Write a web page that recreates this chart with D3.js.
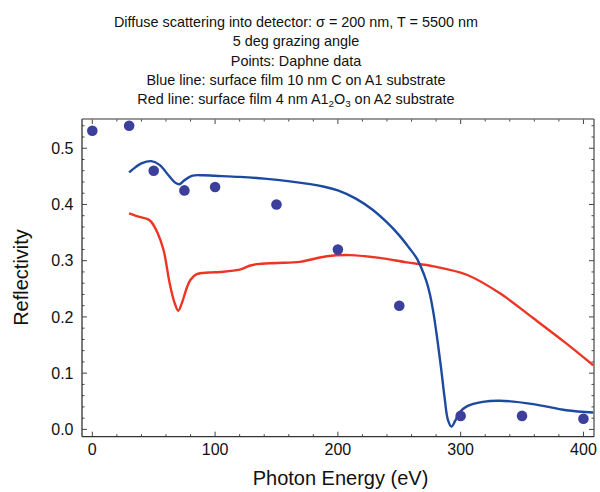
<!DOCTYPE html>
<html>
<head>
<meta charset="utf-8">
<script src="https://cdn.jsdelivr.net/npm/d3@7"></script>
<style>
  body { margin: 0; background: #fff; }
  text { font-family: "Liberation Sans", Arial, Helvetica, sans-serif; }
</style>
</head>
<body>
<div id="chart"></div>
<script>
// values
const blueEnergy = [30, 35, 40, 48, 55, 62, 68, 71, 75, 81, 90, 100, 120, 140, 161, 188, 200, 215, 228, 240, 250, 258, 264, 268, 272, 275, 278, 281, 284, 287, 289.5, 292.5, 295.5, 299, 305, 318, 332, 359, 386, 408];
const blueRefl   = [0.457, 0.466, 0.473, 0.477, 0.470, 0.452, 0.438, 0.436, 0.443, 0.451, 0.452, 0.451, 0.449, 0.446, 0.441, 0.432, 0.425, 0.410, 0.391, 0.368, 0.345, 0.323, 0.305, 0.287, 0.264, 0.240, 0.205, 0.160, 0.110, 0.055, 0.018, 0.005, 0.015, 0.030, 0.041, 0.049, 0.051, 0.045, 0.034, 0.030];

const redEnergy = [30, 35, 40, 45, 48, 53, 58, 63, 67, 70, 73, 77, 80, 85, 95, 104, 120, 128, 134, 150, 169, 191, 210, 234, 256, 278, 305, 332, 359, 386, 408];
const redRefl   = [0.384, 0.380, 0.377, 0.374, 0.369, 0.350, 0.319, 0.260, 0.225, 0.211, 0.225, 0.252, 0.266, 0.276, 0.279, 0.280, 0.284, 0.291, 0.294, 0.296, 0.298, 0.308, 0.310, 0.305, 0.297, 0.290, 0.275, 0.242, 0.198, 0.153, 0.114];

const daphneEnergy = [0, 30, 50, 75, 100, 150, 200, 250, 300, 350, 400];
const daphneRefl   = [0.531, 0.540, 0.460, 0.425, 0.431, 0.400, 0.320, 0.220, 0.024, 0.024, 0.019];

const xTicks = [0, 100, 200, 300, 400];
const yTicks = [0.0, 0.1, 0.2, 0.3, 0.4, 0.5];

const titleLines = [
  "Diffuse scattering into detector: \u03c3 = 200 nm, T = 5500 nm",
  "5 deg grazing angle",
  "Points: Daphne data",
  "Blue line: surface film 10 nm C on A1 substrate"
];

const W = 600, H = 492;
const frameL = 82, frameR = 594, frameT = 119, frameB = 436.7;

const svg = d3.select("#chart").append("svg")
  .attr("width", W)
  .attr("height", H);

const x = d3.scaleLinear().domain([-8.4, 408.6]).range([frameL, frameR]);
const y = d3.scaleLinear().domain([-0.013, 0.552]).range([frameB, frameT]);

// title block
const title = svg.append("g").attr("font-size", 14.4).attr("text-anchor", "middle").attr("fill", "#111");
titleLines.forEach(function(t, i) {
  title.append("text").attr("x", 296).attr("y", 27 + i * 19.3).text(t);
});
const last = title.append("text").attr("x", 296).attr("y", 27 + 4 * 19.3);
last.append("tspan").text("Red line: surface film 4 nm A1");
last.append("tspan").attr("font-size", 9.8).attr("dy", 3).text("2");
last.append("tspan").attr("dy", -3).text("O");
last.append("tspan").attr("font-size", 9.8).attr("dy", 3).text("3");
last.append("tspan").attr("dy", -3).text(" on A2 substrate");

// ticks on all four sides, pointing inward
const xMinor = d3.range(0, 401, 20);
const yMinor = d3.range(0, 0.5501, 0.02);
const tickG = svg.append("g").attr("stroke", "#444").attr("stroke-width", 1);

xMinor.forEach(function(v) {
  const major = xTicks.indexOf(v) >= 0;
  const len = major ? 5 : 2.5;
  tickG.append("line").attr("x1", x(v)).attr("x2", x(v)).attr("y1", frameB).attr("y2", frameB - len);
  tickG.append("line").attr("x1", x(v)).attr("x2", x(v)).attr("y1", frameT).attr("y2", frameT + len);
});
yMinor.forEach(function(v) {
  const major = Math.abs(v * 10 - Math.round(v * 10)) < 1e-6;
  const len = major ? 5 : 2.5;
  tickG.append("line").attr("y1", y(v)).attr("y2", y(v)).attr("x1", frameL).attr("x2", frameL + len);
  tickG.append("line").attr("y1", y(v)).attr("y2", y(v)).attr("x1", frameR).attr("x2", frameR - len);
});

// frame
svg.append("line").attr("x1", frameL).attr("x2", frameR).attr("y1", frameT).attr("y2", frameT)
  .attr("stroke", "#777").attr("stroke-width", 1.3);
svg.append("line").attr("x1", frameR).attr("x2", frameR).attr("y1", frameT).attr("y2", frameB)
  .attr("stroke", "#555").attr("stroke-width", 1.3);
svg.append("line").attr("x1", frameL).attr("x2", frameL).attr("y1", frameT).attr("y2", frameB)
  .attr("stroke", "#333").attr("stroke-width", 1.3);
svg.append("line").attr("x1", frameL).attr("x2", frameR).attr("y1", frameB).attr("y2", frameB)
  .attr("stroke", "#333").attr("stroke-width", 1.3);

// tick labels
svg.append("g").selectAll("text").data(xTicks).enter().append("text")
  .attr("x", function(d) { return x(d); })
  .attr("y", 455)
  .attr("text-anchor", "middle")
  .attr("font-size", 16)
  .attr("fill", "#111")
  .text(function(d) { return d; });

svg.append("g").selectAll("text").data(yTicks).enter().append("text")
  .attr("x", 73.5)
  .attr("y", function(d) { return y(d) + 5.8; })
  .attr("text-anchor", "end")
  .attr("font-size", 16)
  .attr("fill", "#111")
  .text(function(d) { return d.toFixed(1); });

// axis titles
svg.append("text")
  .attr("x", 340.5).attr("y", 485)
  .attr("text-anchor", "middle").attr("font-size", 20).attr("fill", "#111")
  .text("Photon Energy (eV)");
svg.append("text")
  .attr("transform", "translate(28," + 277.5 + ") rotate(-90)")
  .attr("text-anchor", "middle").attr("font-size", 20).attr("fill", "#111")
  .text("Reflectivity");

// curves
const line = d3.line()
  .x(function(d) { return x(d[0]); })
  .y(function(d) { return y(d[1]); })
  .curve(d3.curveCatmullRom.alpha(0.5));

svg.append("path")
  .datum(redEnergy.map(function(e, i) { return [e, redRefl[i]]; }))
  .attr("d", line)
  .attr("fill", "none").attr("stroke", "#ee3425").attr("stroke-width", 2.4);

svg.append("path")
  .datum(blueEnergy.map(function(e, i) { return [e, blueRefl[i]]; }))
  .attr("d", line)
  .attr("fill", "none").attr("stroke", "#1d4aa0").attr("stroke-width", 2.4);

// Daphne points
svg.append("g").selectAll("circle")
  .data(daphneEnergy.map(function(e, i) { return [e, daphneRefl[i]]; }))
  .enter().append("circle")
  .attr("cx", function(d) { return x(d[0]); })
  .attr("cy", function(d) { return y(d[1]); })
  .attr("r", 5.3)
  .attr("fill", "#3c3f9c");
</script>
</body>
</html>
